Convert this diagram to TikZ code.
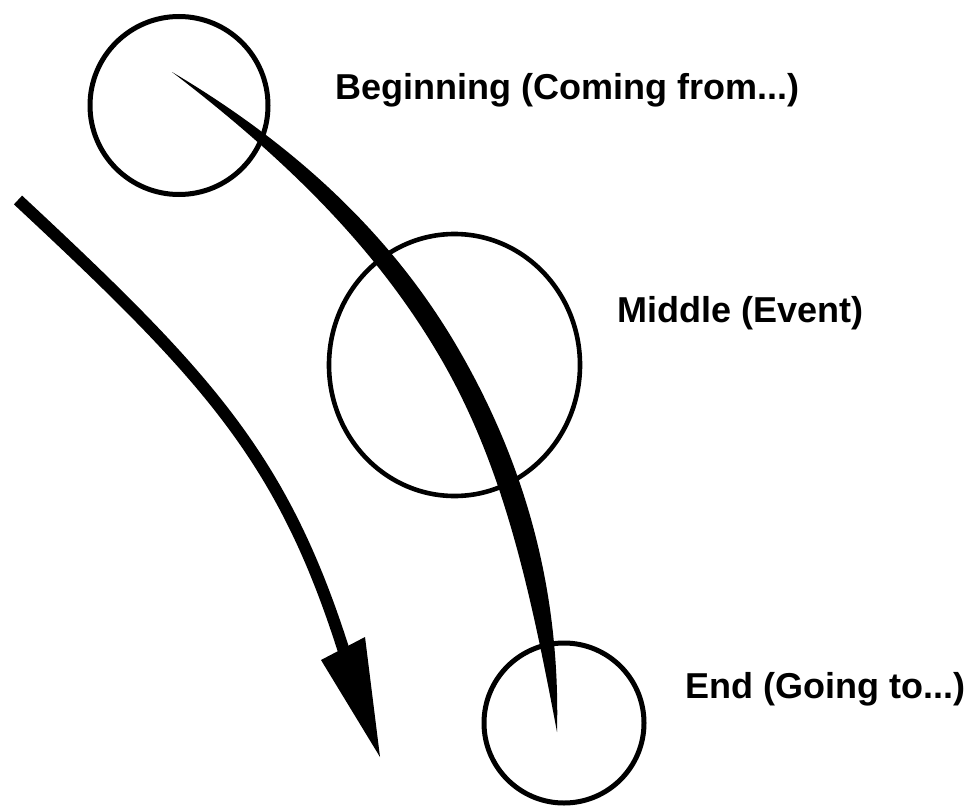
\documentclass[tikz,border=0pt]{standalone}
\usepackage{fontspec}
\setmainfont{Liberation Sans}
\usetikzlibrary{shapes.geometric}
\tikzset{
  ring/.style={draw=black, circle, line width=5pt, inner sep=0pt, fill=none},
  label/.style={anchor=base west, inner sep=0pt, font=\fontsize{36}{43}\selectfont\bfseries},
}
\begin{document}
\begin{tikzpicture}[x=1pt,y=-1pt]
\useasboundingbox (0,0) rectangle (971,808);
% circles
\node[ring, minimum size=178pt] (begc) at (179,105.5) {};
\node[draw=black, ellipse, line width=4.6pt, inner sep=0pt, minimum width=251pt, minimum height=262pt] (midc) at (454.5,365) {};
\node[ring, minimum size=160pt] (endc) at (564,723) {};
% tapered path from beginning to end
\coordinate (ts) at (172,72);
\coordinate (te) at (557,732);
\fill[black] (ts) .. controls (302.44,149.25) and (395.39,240.96) .. (457.54,347.46)
  .. controls (519.64,453.96) and (560.84,580.08) .. (te)
  .. controls (529.16,583.92) and (502.36,464.04) .. (440.26,357.54)
  .. controls (378.11,251.04) and (290.56,162.75) .. (ts) -- cycle;
% left arrow
\coordinate (as) at (18,200);
\coordinate (ab) at (344.5,653);
\draw[line width=12pt] (as) .. controls (207.8,376.8) and (283,458) .. (ab);
\fill[black] (321,660) -- (380,757) -- (365,637) -- cycle;
% labels
\node[label] (begt) at (335,99) {Beginning (Coming from...)};
\node[label] (midt) at (617,322) {Middle (Event)};
\node[label] (endt) at (685,698) {End (Going to...)};
\end{tikzpicture}
\end{document}
